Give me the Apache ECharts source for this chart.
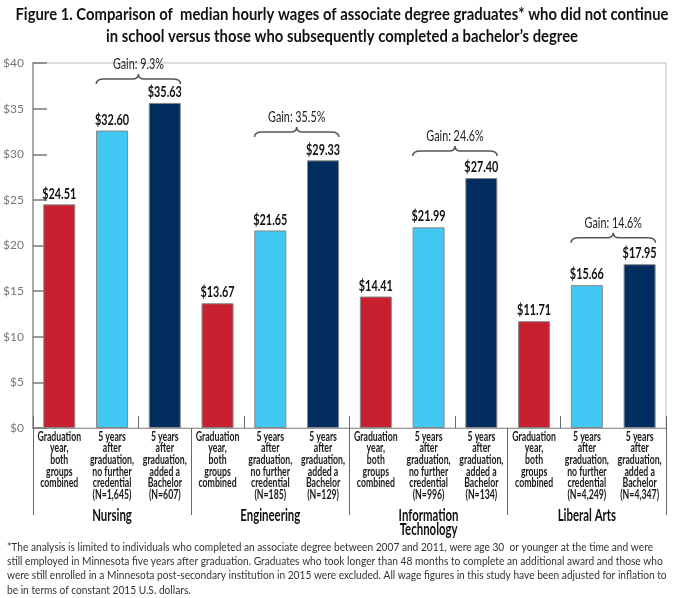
<!DOCTYPE html>
<html>
<head>
<meta charset="utf-8">
<script src="https://cdn.jsdelivr.net/npm/echarts@6/dist/echarts.min.js"></script>
<style>
html,body{margin:0;padding:0;background:#fff;}
#c{width:684px;height:598px;}
</style>
</head>
<body>
<div id="c"></div>
<script>
var groups = ['Nursing', 'Engineering', 'Information\nTechnology', 'Liberal Arts'];
var barLabels = [
  'Graduation\nyear,\nboth\ngroups\ncombined',
  '5 years\nafter\ngraduation,\nno further\ncredential\n(N=1,645)',
  '5 years\nafter\ngraduation,\nadded a\nBachelor\n(N=607)',
  'Graduation\nyear,\nboth\ngroups\ncombined',
  '5 years\nafter\ngraduation,\nno further\ncredential\n(N=185)',
  '5 years\nafter\ngraduation,\nadded a\nBachelor\n(N=129)',
  'Graduation\nyear,\nboth\ngroups\ncombined',
  '5 years\nafter\ngraduation,\nno further\ncredential\n(N=996)',
  '5 years\nafter\ngraduation,\nadded a\nBachelor\n(N=134)',
  'Graduation\nyear,\nboth\ngroups\ncombined',
  '5 years\nafter\ngraduation,\nno further\ncredential\n(N=4,249)',
  '5 years\nafter\ngraduation,\nadded a\nBachelor\n(N=4,347)'
];
var gradYear = [24.51, 13.67, 14.41, 11.71];
var noFurther = [32.60, 21.65, 21.99, 15.66];
var addedBachelor = [35.63, 29.33, 27.40, 17.95];
var gains = ['9.3%', '35.5%', '24.6%', '14.6%'];
var braceLevels = [37.7, 31.9, 29.8, 20.3];
var yTicks = [0, 5, 10, 15, 20, 25, 30, 35, 40];
var seriesColors = ['#C8202F', '#40C7F2', '#012D60'];
var titleText = 'Figure 1. Comparison of  median hourly wages of associate degree graduates* who did not continue\nin school versus those who subsequently completed a bachelor\u2019s degree';
var footText = '*The analysis is limited to individuals who completed an associate degree between 2007 and 2011, were age 30  or younger at the time and were\nstill employed in Minnesota five years after graduation. Graduates who took longer than 48 months to complete an additional award and those who\nwere still enrolled in a Minnesota post-secondary institution in 2015 were excluded. All wage figures in this study have been adjusted for inflation to\nbe in terms of constant 2015 U.S. dollars.';

var FONT = 'Lato, "Liberation Sans", sans-serif';
var mctx = document.createElement('canvas').getContext('2d');
function measure(font, text) { mctx.font = font; return mctx.measureText(text).width; }

var F_BAR = 'bold 12.5px ' + FONT;
var F_VAL = 'bold 16px ' + FONT;
var F_GAIN = '15px ' + FONT;
var F_GRP = 'bold 17px ' + FONT;
var F_TITLE = 'bold 17.5px ' + FONT;
var F_FOOT = '11.5px ' + FONT;
var sBar = 44 / measure(F_BAR, 'graduation,');
var sVal = 34 / measure(F_VAL, '$24.51');
var sGain = 51 / measure(F_GAIN, 'Gain: 9.3%');
var sGrp = 60 / measure(F_GRP, 'Engineering');
var sTitle = 653 / measure(F_TITLE, titleText.split('\n')[0]);
var sFoot = 646 / measure(F_FOOT, footText.split('\n')[0]);

var barData = [];
for (var g = 0; g < groups.length; g++) {
  var vals = [gradYear[g], noFurther[g], addedBachelor[g]];
  for (var k = 0; k < 3; k++) {
    barData.push({ value: vals[k], itemStyle: { color: seriesColors[k] } });
  }
}
var valData = barData.map(function (d, i) { return [i, d.value]; });
var labelData = barLabels.map(function (t, i) { return [i, 0]; });
var groupData = groups.map(function (t, i) { return [i, 0]; });
var braceData = [];
for (var g2 = 0; g2 < groups.length; g2++) {
  braceData.push([g2 * 3 + 1, g2 * 3 + 2, braceLevels[g2]]);
}

var chart = echarts.init(document.getElementById('c'));
chart.setOption({
  animation: false,
  backgroundColor: '#fff',
  graphic: [{
    type: 'text', x: 342, y: 3, scaleX: sTitle,
    style: { text: titleText, align: 'center', verticalAlign: 'top', font: F_TITLE, lineHeight: 22, fill: '#111' }
  }, {
    type: 'text', x: 7, y: 540, scaleX: sFoot,
    style: { text: footText, align: 'left', verticalAlign: 'top', font: F_FOOT, lineHeight: 14.3, fill: '#333' }
  }],
  grid: { left: 26, right: 18, top: 63, bottom: 170, show: true, borderColor: '#bbb', borderWidth: 1 },
  xAxis: [{
    type: 'category',
    data: barLabels,
    position: 'bottom',
    axisLine: { show: true, lineStyle: { color: '#999', width: 1 } },
    axisTick: { show: true, inside: true, length: 12, lineStyle: { color: '#666', width: 1 } },
    axisLabel: { show: false }
  }, {
    type: 'category',
    data: groups,
    position: 'bottom',
    axisLine: { show: false },
    axisTick: { show: true, length: 87, lineStyle: { color: '#666', width: 1 } },
    axisLabel: { show: false }
  }],
  yAxis: {
    type: 'value',
    min: 0,
    max: 40,
    interval: 5,
    axisLine: { show: true, lineStyle: { color: '#aaa', width: 2 } },
    axisTick: { show: true, inside: true, length: 14, lineStyle: { color: '#777', width: 1.5 } },
    splitLine: { show: false },
    axisLabel: {
      margin: 9,
      fontFamily: FONT, fontSize: 12, color: '#777',
      formatter: function (v) { return yTicks.indexOf(v) >= 0 ? '$' + v : ''; }
    }
  },
  series: [{
    type: 'bar',
    xAxisIndex: 0,
    data: barData,
    barWidth: 32,
    itemStyle: { borderColor: '#888', borderWidth: 1 }
  }, {
    type: 'custom',
    xAxisIndex: 0,
    data: valData,
    renderItem: function (params, api) {
      var p = api.coord([api.value(0), api.value(1)]);
      return {
        type: 'text', x: p[0], y: p[1] - 11, scaleX: sVal,
        style: { text: '$' + api.value(1).toFixed(2), align: 'center', verticalAlign: 'middle', font: F_VAL, fill: '#111' }
      };
    }
  }, {
    type: 'custom',
    xAxisIndex: 0,
    data: labelData,
    renderItem: function (params, api) {
      var p = api.coord([api.value(0), 0]);
      return {
        type: 'text', x: p[0], y: p[1] + 3, scaleX: sBar,
        style: { text: barLabels[params.dataIndex], align: 'center', verticalAlign: 'top', font: F_BAR, lineHeight: 11.6, fill: '#1a1a1a' }
      };
    }
  }, {
    type: 'custom',
    xAxisIndex: 1,
    data: groupData,
    renderItem: function (params, api) {
      var p = api.coord([api.value(0), 0]);
      return {
        type: 'text', x: p[0], y: p[1] + 80, scaleX: sGrp,
        style: { text: groups[params.dataIndex], align: 'center', verticalAlign: 'top', font: F_GRP, lineHeight: 14.5, fill: '#111' }
      };
    }
  }, {
    type: 'custom',
    xAxisIndex: 0,
    data: braceData,
    renderItem: function (params, api) {
      var a = api.coord([api.value(0), api.value(2)]);
      var b = api.coord([api.value(1), api.value(2)]);
      var half = api.size([1, 0])[0] * 0.3;
      var x1 = a[0] - half, x2 = b[0] + half, y = a[1];
      var xm = (x1 + x2) / 2;
      var path = 'M' + x1 + ' ' + y +
        ' Q' + x1 + ' ' + (y - 5) + ' ' + (x1 + 8) + ' ' + (y - 5) +
        ' L' + (xm - 6) + ' ' + (y - 5) +
        ' Q' + xm + ' ' + (y - 5) + ' ' + xm + ' ' + (y - 10) +
        ' Q' + xm + ' ' + (y - 5) + ' ' + (xm + 6) + ' ' + (y - 5) +
        ' L' + (x2 - 8) + ' ' + (y - 5) +
        ' Q' + x2 + ' ' + (y - 5) + ' ' + x2 + ' ' + y;
      return {
        type: 'group',
        children: [{
          type: 'path',
          shape: { pathData: path },
          style: { fill: 'none', stroke: '#555', lineWidth: 1.5 }
        }, {
          type: 'text', x: xm, y: y - 20, scaleX: sGain,
          style: {
            text: 'Gain: ' + gains[params.dataIndex],
            align: 'center', verticalAlign: 'middle',
            font: F_GAIN, fill: '#222'
          }
        }]
      };
    }
  }]
});
</script>
</body>
</html>
